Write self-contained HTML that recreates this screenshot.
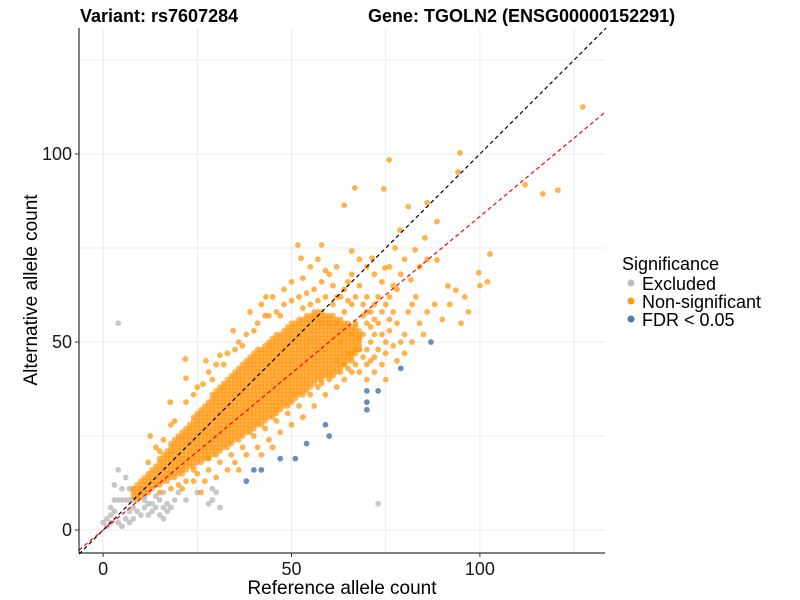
<!DOCTYPE html>
<html><head><meta charset="utf-8"><style>
body{margin:0;background:#fff;}
svg{display:block;font-family:"Liberation Sans",Arial,sans-serif;}
</style></head><body>
<svg id="chart" width="800" height="600" viewBox="0 0 800 600">
<g id="grid"></g>
<g id="pts"></g>
<g id="lines"></g>
<g id="axes"></g>
<text x="80" y="22" font-size="18" font-weight="bold" fill="#000">Variant: rs7607284</text>
<text x="368" y="22" font-size="18" font-weight="bold" fill="#000">Gene: TGOLN2 (ENSG00000152291)</text>
<text x="342" y="594" font-size="19" text-anchor="middle" fill="#000">Reference allele count</text>
<text transform="translate(37,290) rotate(-90)" font-size="19" text-anchor="middle" fill="#000">Alternative allele count</text>
<g>
<text x="622" y="270" font-size="18" fill="#000">Significance</text>
<g><circle cx="631" cy="283" r="3.5" fill="#bebebe"/><text x="642" y="290" font-size="18" fill="#000">Excluded</text></g>
<g><circle cx="631" cy="301" r="3.5" fill="#ff9912"/><text x="642" y="308" font-size="18" fill="#000">Non-significant</text></g>
<g><circle cx="631" cy="319" r="3.5" fill="#4f7cb0"/><text x="642" y="326" font-size="18" fill="#000">FDR &lt; 0.05</text></g>
</g>
</svg>
<script>
const xTicks=[0,50,100];
const yTicks=[0,50,100];
const gridVals=[0,25,50,75,100,125];
const excluded=[[0,2],[1,3],[2,4],[2,6],[3,8],[4,8],[5,8],[6,8],[7,8],[8,8],[9,9],[10,10],[11,8],[12,7],[13,7],[15,8],[14,6],[11,6],[9,5],[8,6],[10,4],[12,4],[13,5],[6,3],[7,2],[5,1],[4,2],[3,5],[4,16],[6,14],[3,12],[5,11],[7,11],[8,11],[10,11],[11,9],[17,5],[19,8],[20,10],[22,8],[25,10],[29,8],[30,10],[29,11],[31,6],[28,7],[18,6],[16,10],[14,9],[73,7],[4,55],[1,1],[2,2],[7,5],[8,3],[16,3],[16,6],[17,7],[15,4]];
const coreX=[8,9,10,11,12,13,14,15,16,17,18,19,20,21,22,23,24,25,26,27,28,29,30,31,32,33,34,35,36,37,38,39,40,41,42,43,44,45,46,47,48,49,50,51,52,53,54,55,56,57,58,59,60,61,62,63,64,65,66,67,68];
const coreLo=[9,9,10,10,11,11,12,12,13,13,14,14,15,15,16,17,17,18,18,19,19,20,20,21,22,22,23,24,24,25,26,26,27,28,28,29,30,30,31,32,33,33,34,35,36,36,37,38,39,40,40,41,41,42,42,43,44,45,46,47,48];
const coreHi=[11,12,13,14,15,16,17,19,20,21,23,24,25,26,27,28,30,31,32,33,34,36,37,38,39,40,41,42,43,44,45,46,47,48,48,49,50,51,52,52,53,54,55,55,56,56,57,57,58,58,58,57,57,57,56,56,55,55,54,54,53];
const nonSig=[[127.3,112.5],[94.7,100.3],[75.9,98.4],[94.2,95.2],[86,87],[74.5,90.7],[66.8,91],[64,86.4],[81,86],[88.6,82],[112,91.8],[116.7,89.4],[120.7,90.4],[102.7,73.4],[99.7,68.4],[102,66],[91.5,64.9],[93.6,63.8],[88.6,71.8],[81.7,66.5],[85.4,77.7],[82.8,74.5],[78.8,79.8],[77.5,75],[74.8,69.7],[71.4,72.3],[66,74.2],[58,75.8],[51.7,75.8],[52.5,72.3],[43.2,62],[43,57],[34.5,53],[31,46.5],[27.3,45],[21.8,45.5],[22,40.4],[26.5,38.8],[17.8,34],[19,29],[12.5,25],[15,21],
[62,62],[64,64],[65,66],[66,68],[68,65],[70,62],[72,60],[74,58],[76,56],[78,55],[80,52],[67,55],[69,52],[71,50],[73,48],[75,47],[77,49],[79,50],[66,45],[68,42],[70,44],[72,46],[74,52],[76,62],[78,64],[82,60],[84,55],[86,58],[63,50],[65,47],[67,48],[69,57],[71,58],[73,55],[60,68],[62,70],[58,66],[56,64],[54,63],[52,62],[50,61],[48,60],[46,58],[44,57],[40,53],[38,52],[36,50],[33,47],[30,44],[28,42],[24,36],[22,34],[18,28],[16,24],[14,22],[12,18],[30,14],[33,16],[35,18],[38,20],[41,22],[44,24],[47,26],[50,28],[53,30],[56,33],[59,36],[62,38],[64,40],[66,42],[57,38],[60,40],[45,22],[42,20],[36,16],[27,13],[24,13],[21,11],[18,11],[15,10],[12,10],[10,9],[9,8],[20,12],[26,10],[24,16],[28,16],[55,70],[57,72],[59,69],[61,65],[48,64],[45,62],[42,60],[39,58],[50,66],[53,67],[62,45],[64,44],[66,47],[68,48],[70,40],[72,42],[75,40],[78,45],[80,47],[82,50],[85,52],[88,60],[90,56],[95,55],[92,60],[96,62],[100,65],[97,58],[84,70],[86,72],[80,72],[76,70],[74,66],[72,68],[70,70],[68,72],[66,60],[64,58],[62,55],[60,55],[58,55],[70,55],[72,52],[75,60],[77,65],[79,68],
[69,60],[70,58],[71,54],[72,56],[73,62],[74,44],[75,50],[76,53],[77,58],[69,46],[70,48],[71,45],[67,62],[65,61],[63,62],[61,60],[59,62],[57,61],[55,60],[53,59],[35,48],[37,49],[32,44],[29,40],[25,38],[41,55],[47,57],[63,42],[65,43],[67,44],[58,39],[55,36],[52,33],[49,31],[46,29],[43,27],[40,25],[37,22],[34,20],[31,18],[28,19],[25,15],[22,13],[61,41],[68,51],[66,52],[81,58],[83,62]];
const fdr=[[38,13],[40,16],[42,16],[47,19],[51,19],[54,23],[59,28],[60,25],[70,37],[73,37],[70,34],[70,32],[79,43],[87,50]];
const redSlope=0.834;
const xDomain=[-6.4,133.2], yDomain=[-6.1,133.5];
const L=79,R=605,T=28,B=553;
const NS="http://www.w3.org/2000/svg";
function xs(v){return L+(v-xDomain[0])/(xDomain[1]-xDomain[0])*(R-L);}
function ys(v){return B-(v-yDomain[0])/(yDomain[1]-yDomain[0])*(B-T);}
function mk(tag,attrs,parent){const e=document.createElementNS(NS,tag);for(const k in attrs)e.setAttribute(k,attrs[k]);parent.appendChild(e);return e;}
const grid=document.getElementById('grid'),pts=document.getElementById('pts'),lines=document.getElementById('lines'),axes=document.getElementById('axes');
gridVals.forEach(v=>{
 const a=mk('line',{x1:xs(v),x2:xs(v),y1:T,y2:B,stroke:'#ebebeb','stroke-width':1},grid);
 
 
 const b=mk('line',{x1:L,x2:R,y1:ys(v),y2:ys(v),stroke:'#ebebeb','stroke-width':1},grid);
 
 
});
function dot(x,y,fill,op,name){
 const c=mk('circle',{cx:xs(x),cy:ys(y),r:2.9,fill:fill,'fill-opacity':op},pts);
 
 
}
excluded.forEach(p=>dot(p[0],p[1],'#bebebe',0.85,'excluded-point'));
coreX.forEach((x,i)=>{for(let y=coreLo[i];y<=coreHi[i];y++)dot(x,y,'#ff9912',0.7,'non-significant-point');});
nonSig.forEach(p=>dot(p[0],p[1],'#ff9912',0.75,'non-significant-point'));
fdr.forEach(p=>dot(p[0],p[1],'#4f7cb0',0.85,'fdr-point'));
const d1=mk('line',{x1:xs(xDomain[0]),y1:ys(xDomain[0]),x2:xs(yDomain[1]),y2:ys(yDomain[1]),stroke:'#000','stroke-width':1.2,'stroke-dasharray':'4,3'},lines);


const d2=mk('line',{x1:xs(xDomain[0]),y1:ys(xDomain[0]*redSlope),x2:xs(xDomain[1]),y2:ys(xDomain[1]*redSlope),stroke:'#ff0000','stroke-width':1.2,'stroke-dasharray':'4,3'},lines);


const ax=mk('line',{x1:L,x2:L,y1:T,y2:B,stroke:'#000','stroke-width':1},axes);


const bx=mk('line',{x1:L,x2:R,y1:B,y2:B,stroke:'#000','stroke-width':1},axes);


xTicks.forEach(v=>{
 const t=mk('line',{x1:xs(v),x2:xs(v),y1:B,y2:B+4,stroke:'#333'},axes);
 
 
 const l=mk('text',{x:xs(v),y:B+22,'font-size':18,'text-anchor':'middle',fill:'#1a1a1a'},axes);
 l.textContent=v;
 
 
});
yTicks.forEach(v=>{
 const t=mk('line',{x1:L-4,x2:L,y1:ys(v),y2:ys(v),stroke:'#333'},axes);
 
 
 const l=mk('text',{x:L-7,y:ys(v)+6,'font-size':18,'text-anchor':'end',fill:'#1a1a1a'},axes);
 l.textContent=v;
 
 
});
</script>
</body></html>
